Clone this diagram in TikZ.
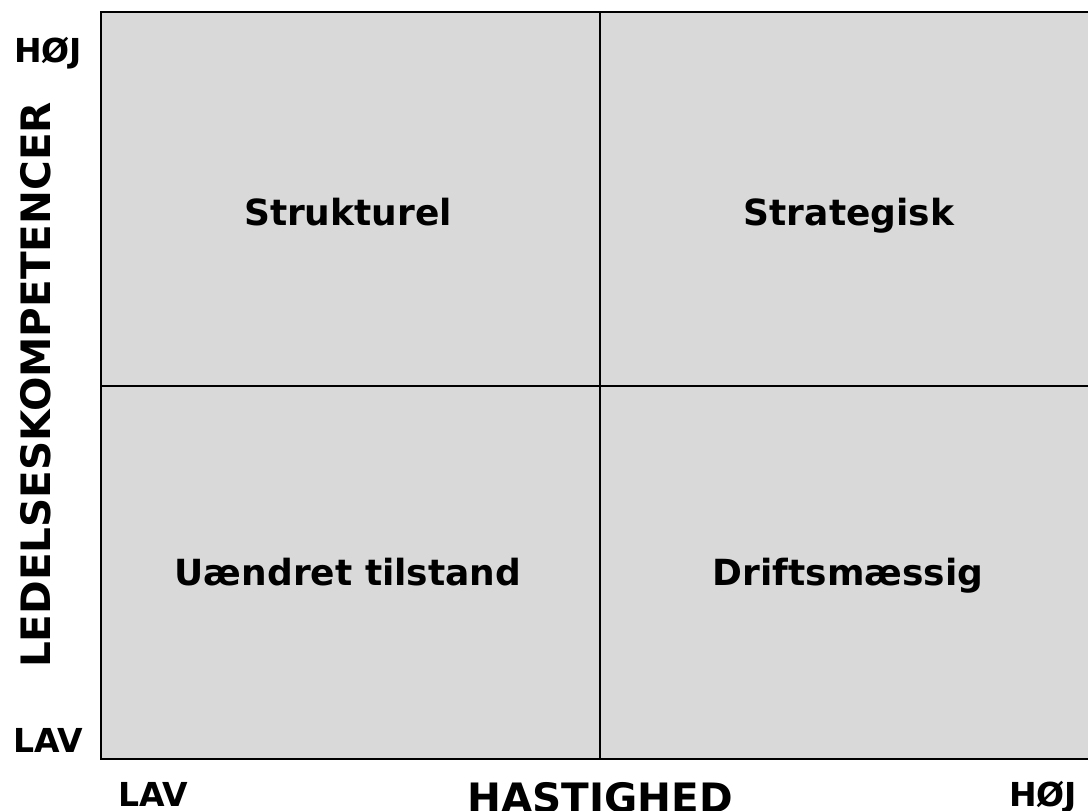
\documentclass[tikz,border=0pt]{standalone}
\usepackage{fontspec}
\setmainfont{DejaVu Sans}
\definecolor{cellgray}{HTML}{D9D9D9}
\begin{document}
\begin{tikzpicture}[x=1pt,y=-1pt,
  cell/.style={font=\bfseries\fontsize{36}{40}\selectfont, inner sep=0pt, anchor=base},
  axis/.style={font=\bfseries\fontsize{40.5}{44}\selectfont, inner sep=0pt, anchor=base},
  tick/.style={font=\bfseries\fontsize{33}{36}\selectfont, inner sep=0pt, anchor=base},
  gridline/.style={line width=1.7pt, black}]
\useasboundingbox (0,0) rectangle (1088,811);
\fill[cellgray] (101,12) rectangle (1090,759);
\draw[gridline] (1090,12) -- (101,12) -- (101,759) -- (1090,759);
\draw[gridline] (600,12) -- (600,759);
\draw[gridline] (101,386) -- (1090,386);
\node[cell] (strukturel) at (348,225) {Strukturel};
\node[cell] (strategisk) at (849,225) {Strategisk};
\node[cell] (uaendret) at (348,585) {Uændret tilstand};
\node[cell] (drift) at (848,585) {Driftsmæssig};
\node[tick] (hojy) at (48,62) {HØJ};
\node[tick] (lavy) at (48,752) {LAV};
\node[tick] (lavx) at (153,806) {LAV};
\node[tick] (hojx) at (1043,806) {HØJ};
\node[axis] (hast) at (600,812) {HASTIGHED};
\node[axis, rotate=90] (ledelse) at (50,385) {LEDELSESKOMPETENCER};
\end{tikzpicture}
\end{document}
